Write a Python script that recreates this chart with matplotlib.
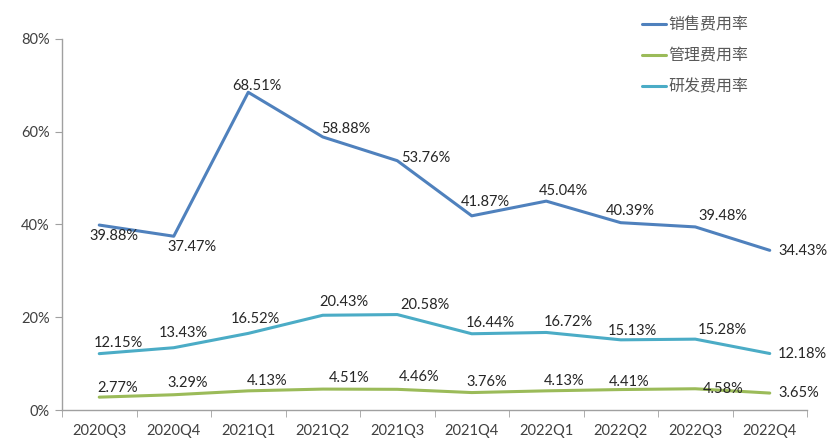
import matplotlib.pyplot as plt
import numpy as np

plt.rcParams['font.family'] = ['Lato', 'Noto Sans CJK SC', 'DejaVu Sans']

quarters = ["2020Q3", "2020Q4", "2021Q1", "2021Q2", "2021Q3",
            "2021Q4", "2022Q1", "2022Q2", "2022Q3", "2022Q4"]
sales_rate = [39.88, 37.47, 68.51, 58.88, 53.76, 41.87, 45.04, 40.39, 39.48, 34.43]
admin_rate = [2.77, 3.29, 4.13, 4.51, 4.46, 3.76, 4.13, 4.41, 4.58, 3.65]
rd_rate = [12.15, 13.43, 16.52, 20.43, 20.58, 16.44, 16.72, 15.13, 15.28, 12.18]
series_names = ["销售费用率", "管理费用率", "研发费用率"]

# label offsets in pixels (dx, dy), chosen to mimic the original layout
sales_off = [(15, -11), (18, -11), (9, 6), (23, 8), (29, 3),
             (14, 14), (17, 10), (10, 12), (28, 11), (33, -1)]
rd_off = [(19, 11), (10, 15), (7, 14), (21, 13), (28, 10),
          (19, 11), (22, 10), (12, 9), (27, 9), (33, 0)]
admin_off = [(18, 9), (14, 12), (19, 10), (26, 11), (22, 12),
             (15, 11), (18, 10), (8, 8), (28, 0), (29, 0)]

colors = ["#4F81BD", "#9BBB59", "#4BACC6"]

fig = plt.figure(figsize=(8.32, 4.44), dpi=100)
ax = fig.add_axes([62 / 832, 34 / 444, 745 / 832, 371 / 444])

x = np.arange(len(quarters))
for vals, offs, name, c in zip([sales_rate, admin_rate, rd_rate],
                               [sales_off, admin_off, rd_off],
                               series_names, colors):
    ax.plot(x, vals, color=c, lw=2.2, label=name, solid_capstyle="round",
            solid_joinstyle="round")
    for xi, v, (dx, dy) in zip(x, vals, offs):
        ax.annotate(f"{v:.2f}%", (xi, v), xytext=(dx, dy), textcoords="offset pixels",
                    ha="center", va="center", fontsize=10.5, color="#262626")

ax.set_xlim(-0.5, len(quarters) - 0.5)
ax.set_ylim(0, 80)
ax.set_yticks([0, 20, 40, 60, 80])
ax.set_yticklabels([f"{t}%" for t in [0, 20, 40, 60, 80]])
ax.set_xticks(x)
ax.set_xticklabels(quarters)
ax.set_xticks(np.arange(-0.5, len(quarters)), minor=True)
ax.tick_params(axis="x", which="major", length=0, pad=10, labelsize=10.5, labelcolor="#404040")
ax.tick_params(axis="x", which="minor", length=5, color="#A0A0A0", direction="out")
ax.tick_params(axis="y", length=5, color="#A0A0A0", labelsize=10.5, labelcolor="#404040", pad=4)

for s in ["top", "right"]:
    ax.spines[s].set_visible(False)
for s in ["left", "bottom"]:
    ax.spines[s].set_color("#A0A0A0")
    ax.spines[s].set_linewidth(1.0)

leg = fig.legend(loc="upper left", bbox_to_anchor=(628 / 832, 1 - 3 / 444), frameon=False,
                 fontsize=11.5, handlelength=1.5, handletextpad=0.1, labelspacing=0.97)
for t in leg.get_texts():
    t.set_color("#595959")

fig.savefig("out.png", dpi=100)
